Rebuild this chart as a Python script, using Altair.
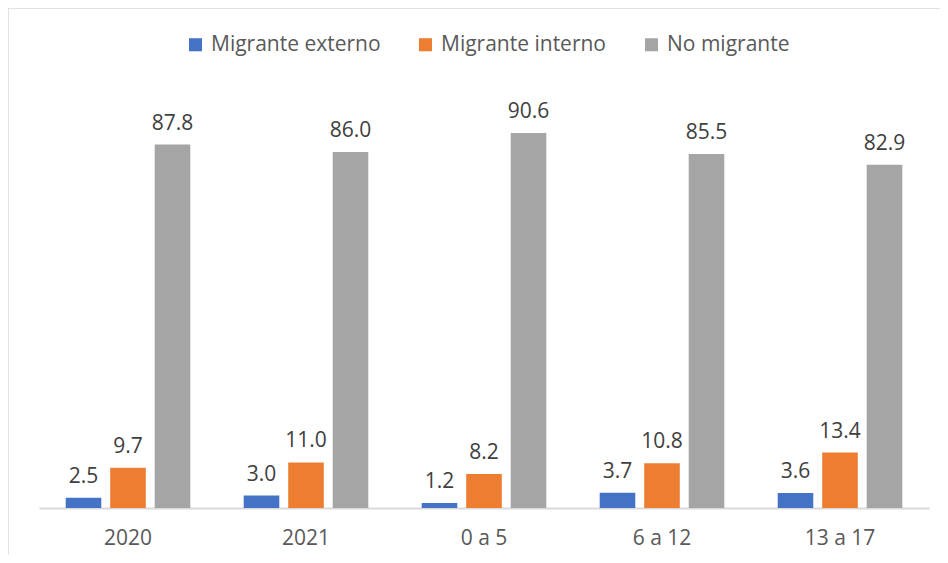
import altair as alt
import pandas as pd

categories = ["2020", "2021", "0 a 5", "6 a 12", "13 a 17"]
series = ["Migrante externo", "Migrante interno", "No migrante"]
externo = [2.5, 3.0, 1.2, 3.7, 3.6]
interno = [9.7, 11.0, 8.2, 10.8, 13.4]
no_migrante = [87.8, 86.0, 90.6, 85.5, 82.9]
colors = ["#4472C4", "#ED7D31", "#A5A5A5"]

rows = []
for i, c in enumerate(categories):
    for s, vals in zip(series, [externo, interno, no_migrante]):
        rows.append({"cat": c, "serie": s, "valor": vals[i]})
df = pd.DataFrame(rows)

FONT = "Open Sans"

base = alt.Chart(df).encode(
    x=alt.X("cat:N", sort=categories, title=None,
            scale=alt.Scale(paddingInner=0.25, paddingOuter=0.125),
            axis=alt.Axis(labelAngle=0, labelFontSize=21, labelColor="#595959",
                          labelFont=FONT, domainColor="#d9d9d9", domainWidth=2,
                          ticks=False, labelPadding=19, grid=False)),
    xOffset=alt.XOffset("serie:N", sort=series,
                        scale=alt.Scale(paddingInner=0.2, paddingOuter=0.1)),
    y=alt.Y("valor:Q", scale=alt.Scale(domain=[0, 100]), axis=None),
)

bars = base.mark_bar().encode(
    color=alt.Color("serie:N", sort=series,
                    scale=alt.Scale(domain=series, range=colors),
                    legend=alt.Legend(title=None, orient="none", direction="horizontal",
                                      legendX=146, legendY=-60,
                                      symbolType="square", symbolSize=170,
                                      symbolStrokeWidth=0, labelFontSize=21,
                                      labelFont=FONT, labelColor="#595959",
                                      labelLimit=400,
                                      columnPadding=34, labelOffset=5))
)

labels = base.mark_text(baseline="bottom", dy=-11, fontSize=21, font=FONT,
                        color="#404040").encode(
    text=alt.Text("valor:Q", format=".1f")
)

frame = alt.Chart(pd.DataFrame({"a": [0]})).mark_rect(
    fill=None, stroke="#d9d9d9", strokeWidth=1.5
).encode(x=alt.value(-31), x2=alt.value(906), y=alt.value(-86), y2=alt.value(470))

chart = alt.layer(frame, bars, labels).properties(
    width=890, height=414,
    autosize=alt.AutoSizeParams(type="none"),
    padding={"left": 31, "top": 86, "right": 11, "bottom": 47},
    background="white",
).configure_view(stroke=None)

chart.save("out.html", embed_options={"renderer": "svg", "actions": False})
